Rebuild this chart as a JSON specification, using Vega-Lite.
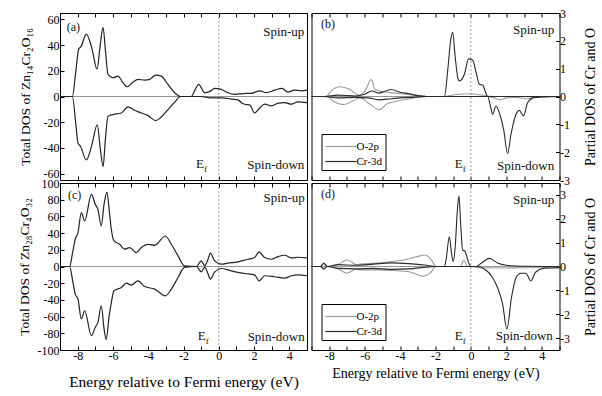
{
  "$schema": "https://vega.github.io/schema/vega-lite/v6.json",
  "padding": {"left": 16, "top": 6, "right": 0, "bottom": 0},
  "columns": 2,
  "spacing": {"row": 3, "column": 4.5},
  "align": "each",
  "bounds": "flush",
  "resolve": {"scale": {"color": "independent"}},
  "config": {
    "font": "Liberation Serif, DejaVu Serif, serif",
    "view": {"stroke": "#000", "strokeWidth": 1},
    "axis": {"domain": false, "grid": false, "tickColor": "#000", "labelColor": "#000", "titleColor": "#000", "labelFontSize": 12, "titleFontSize": 14, "titleFontWeight": "normal", "labelFont": "Liberation Serif, DejaVu Serif, serif", "titleFont": "Liberation Serif, DejaVu Serif, serif", "tickSize": -4, "labelOverlap": false, "minExtent": 0},
    "text": {"font": "Liberation Serif, DejaVu Serif, serif", "fontSize": 13, "color": "#111"},
    "legend": {"labelFont": "Liberation Serif, DejaVu Serif, serif", "labelFontSize": 11, "labelColor": "#000"}
  },
  "datasets": {
    "zero": [{"v": 0}],
    "a": [
      {"s":"up","x":-9,"y":0},{"s":"up","x":-8.3,"y":0},{"s":"up","x":-8.1,"y":20},{"s":"up","x":-7.94,"y":36.9},{"s":"up","x":-7.8,"y":39},{"s":"up","x":-7.51,"y":48.6},{"s":"up","x":-7.2,"y":38},{"s":"up","x":-6.9,"y":21.2},{"s":"up","x":-6.72,"y":40},{"s":"up","x":-6.56,"y":53.9},{"s":"up","x":-6.42,"y":35},{"s":"up","x":-6.28,"y":17.3},{"s":"up","x":-6.0,"y":14.6},{"s":"up","x":-5.71,"y":15.9},{"s":"up","x":-5.45,"y":11},{"s":"up","x":-5.19,"y":7.6},{"s":"up","x":-4.86,"y":11.2},{"s":"up","x":-4.58,"y":13.3},{"s":"up","x":-4.2,"y":12.8},{"s":"up","x":-3.92,"y":13.3},{"s":"up","x":-3.58,"y":16.7},{"s":"up","x":-3.26,"y":15.9},{"s":"up","x":-2.88,"y":9.4},{"s":"up","x":-2.5,"y":2.9},{"s":"up","x":-2.16,"y":0},{"s":"up","x":-1.56,"y":0},{"s":"up","x":-1.35,"y":5},{"s":"up","x":-1.14,"y":9.4},{"s":"up","x":-0.8,"y":2.9},{"s":"up","x":-0.5,"y":4},{"s":"up","x":-0.23,"y":6.3},{"s":"up","x":0.14,"y":5.5},{"s":"up","x":0.52,"y":2.9},{"s":"up","x":0.9,"y":1.7},{"s":"up","x":1.37,"y":2.3},{"s":"up","x":1.84,"y":2.5},{"s":"up","x":2.32,"y":4.4},{"s":"up","x":2.69,"y":3},{"s":"up","x":3.17,"y":5},{"s":"up","x":3.58,"y":6.3},{"s":"up","x":3.92,"y":3.4},{"s":"up","x":4.3,"y":5},{"s":"up","x":4.68,"y":4.4},{"s":"up","x":5,"y":5},
      {"s":"down","x":-9,"y":0},{"s":"down","x":-8.3,"y":0},{"s":"down","x":-8.1,"y":-22},{"s":"down","x":-7.98,"y":-36.3},{"s":"down","x":-7.83,"y":-38.9},{"s":"down","x":-7.51,"y":-49.4},{"s":"down","x":-7.2,"y":-38},{"s":"down","x":-6.89,"y":-22},{"s":"down","x":-6.72,"y":-40},{"s":"down","x":-6.56,"y":-54.6},{"s":"down","x":-6.42,"y":-32},{"s":"down","x":-6.28,"y":-15.4},{"s":"down","x":-6.0,"y":-14.1},{"s":"down","x":-5.52,"y":-12.8},{"s":"down","x":-5.14,"y":-8.1},{"s":"down","x":-4.77,"y":-10.7},{"s":"down","x":-4.39,"y":-12.8},{"s":"down","x":-4.01,"y":-14.9},{"s":"down","x":-3.58,"y":-18.8},{"s":"down","x":-3.26,"y":-16},{"s":"down","x":-2.88,"y":-10.2},{"s":"down","x":-2.5,"y":-4.4},{"s":"down","x":-2.16,"y":0},{"s":"down","x":-1.0,"y":0},{"s":"down","x":-0.5,"y":-1},{"s":"down","x":0.2,"y":-1},{"s":"down","x":0.71,"y":-2},{"s":"down","x":1.09,"y":-2.6},{"s":"down","x":1.3,"y":-5},{"s":"down","x":1.47,"y":-6},{"s":"down","x":1.75,"y":-6.5},{"s":"down","x":2.03,"y":-12.8},{"s":"down","x":2.32,"y":-8.9},{"s":"down","x":2.6,"y":-6},{"s":"down","x":2.98,"y":-7.3},{"s":"down","x":3.36,"y":-5.2},{"s":"down","x":3.73,"y":-4.7},{"s":"down","x":4.11,"y":-6},{"s":"down","x":4.49,"y":-4.2},{"s":"down","x":5,"y":-4.7}
    ],
    "c": [
      {"s":"up","x":-9,"y":0},{"s":"up","x":-8.45,"y":0},{"s":"up","x":-8.3,"y":15},{"s":"up","x":-8.14,"y":32.6},{"s":"up","x":-7.98,"y":40.6},{"s":"up","x":-7.79,"y":64.5},{"s":"up","x":-7.6,"y":54.5},{"s":"up","x":-7.22,"y":86.3},{"s":"up","x":-7.0,"y":74.4},{"s":"up","x":-6.85,"y":68.4},{"s":"up","x":-6.66,"y":48.5},{"s":"up","x":-6.5,"y":75},{"s":"up","x":-6.34,"y":89.1},{"s":"up","x":-6.2,"y":65},{"s":"up","x":-6.09,"y":44.5},{"s":"up","x":-5.94,"y":30.6},{"s":"up","x":-5.62,"y":26.6},{"s":"up","x":-5.34,"y":20.7},{"s":"up","x":-5.05,"y":22.7},{"s":"up","x":-4.67,"y":16.7},{"s":"up","x":-4.39,"y":22.7},{"s":"up","x":-4.01,"y":26.6},{"s":"up","x":-3.63,"y":25.4},{"s":"up","x":-3.03,"y":36.5},{"s":"up","x":-2.69,"y":26.6},{"s":"up","x":-2.31,"y":12.7},{"s":"up","x":-1.94,"y":0.8},{"s":"up","x":-1.27,"y":0},{"s":"up","x":-0.99,"y":6.7},{"s":"up","x":-0.8,"y":1},{"s":"up","x":-0.62,"y":8},{"s":"up","x":-0.48,"y":15.9},{"s":"up","x":-0.23,"y":6.7},{"s":"up","x":0.14,"y":2.8},{"s":"up","x":0.52,"y":4},{"s":"up","x":1.09,"y":5.6},{"s":"up","x":1.66,"y":8.7},{"s":"up","x":2.03,"y":10.7},{"s":"up","x":2.28,"y":17.5},{"s":"up","x":2.6,"y":10.7},{"s":"up","x":2.98,"y":8.7},{"s":"up","x":3.36,"y":11.9},{"s":"up","x":3.73,"y":13.5},{"s":"up","x":4.11,"y":10.3},{"s":"up","x":4.49,"y":11.1},{"s":"up","x":5,"y":10.3},
      {"s":"down","x":-9,"y":0},{"s":"down","x":-8.45,"y":0},{"s":"down","x":-8.3,"y":-15},{"s":"down","x":-8.14,"y":-33.1},{"s":"down","x":-7.98,"y":-39.1},{"s":"down","x":-7.79,"y":-62.9},{"s":"down","x":-7.6,"y":-53},{"s":"down","x":-7.22,"y":-82.9},{"s":"down","x":-7.0,"y":-72.8},{"s":"down","x":-6.85,"y":-66.9},{"s":"down","x":-6.66,"y":-47},{"s":"down","x":-6.5,"y":-75},{"s":"down","x":-6.38,"y":-87.6},{"s":"down","x":-6.22,"y":-60},{"s":"down","x":-6.09,"y":-43},{"s":"down","x":-5.94,"y":-29.1},{"s":"down","x":-5.52,"y":-25.1},{"s":"down","x":-5.24,"y":-19.9},{"s":"down","x":-4.96,"y":-22.3},{"s":"down","x":-4.58,"y":-17.2},{"s":"down","x":-4.2,"y":-24},{"s":"down","x":-3.63,"y":-27.1},{"s":"down","x":-3.03,"y":-35.1},{"s":"down","x":-2.69,"y":-27.1},{"s":"down","x":-2.31,"y":-13.1},{"s":"down","x":-1.94,"y":-1},{"s":"down","x":-1.27,"y":0},{"s":"down","x":-0.99,"y":-6.4},{"s":"down","x":-0.8,"y":-1},{"s":"down","x":-0.62,"y":-8},{"s":"down","x":-0.48,"y":-15.2},{"s":"down","x":-0.23,"y":-6.4},{"s":"down","x":0.14,"y":-2.4},{"s":"down","x":0.71,"y":-5.2},{"s":"down","x":1.47,"y":-8.4},{"s":"down","x":2.03,"y":-10},{"s":"down","x":2.28,"y":-17.2},{"s":"down","x":2.6,"y":-11.1},{"s":"down","x":3.17,"y":-12.3},{"s":"down","x":3.73,"y":-14},{"s":"down","x":4.11,"y":-11.1},{"s":"down","x":4.49,"y":-10},{"s":"down","x":5,"y":-11.1}
    ],
    "b": [
      {"s":"O-2p","p":"up","x":-9,"y":0},{"s":"O-2p","p":"up","x":-8.13,"y":0},{"s":"O-2p","p":"up","x":-7.94,"y":0.17},{"s":"O-2p","p":"up","x":-7.38,"y":0.35},{"s":"O-2p","p":"up","x":-6.82,"y":0.25},{"s":"O-2p","p":"up","x":-6.35,"y":0.05},{"s":"O-2p","p":"up","x":-5.97,"y":0.2},{"s":"O-2p","p":"up","x":-5.63,"y":0.61},{"s":"O-2p","p":"up","x":-5.41,"y":0.25},{"s":"O-2p","p":"up","x":-4.94,"y":0.17},{"s":"O-2p","p":"up","x":-4.38,"y":0.13},{"s":"O-2p","p":"up","x":-3.81,"y":0.09},{"s":"O-2p","p":"up","x":-3.06,"y":0.04},{"s":"O-2p","p":"up","x":-2.5,"y":0},{"s":"O-2p","p":"up","x":-1.5,"y":0},{"s":"O-2p","p":"up","x":-1.2,"y":0.03},{"s":"O-2p","p":"up","x":-0.8,"y":0.07},{"s":"O-2p","p":"up","x":0,"y":0.1},{"s":"O-2p","p":"up","x":0.5,"y":0.06},{"s":"O-2p","p":"up","x":0.9,"y":0.02},{"s":"O-2p","p":"up","x":1.5,"y":0},{"s":"O-2p","p":"up","x":5,"y":0},
      {"s":"O-2p","p":"down","x":-9,"y":0},{"s":"O-2p","p":"down","x":-8.13,"y":0},{"s":"O-2p","p":"down","x":-7.76,"y":-0.17},{"s":"O-2p","p":"down","x":-7.19,"y":-0.29},{"s":"O-2p","p":"down","x":-6.63,"y":-0.15},{"s":"O-2p","p":"down","x":-6.25,"y":-0.04},{"s":"O-2p","p":"down","x":-5.78,"y":-0.24},{"s":"O-2p","p":"down","x":-5.16,"y":-0.47},{"s":"O-2p","p":"down","x":-4.75,"y":-0.27},{"s":"O-2p","p":"down","x":-4.19,"y":-0.17},{"s":"O-2p","p":"down","x":-3.44,"y":-0.08},{"s":"O-2p","p":"down","x":-2.5,"y":0},{"s":"O-2p","p":"down","x":0.9,"y":0},{"s":"O-2p","p":"down","x":1.3,"y":-0.05},{"s":"O-2p","p":"down","x":1.65,"y":-0.12},{"s":"O-2p","p":"down","x":2.0,"y":-0.05},{"s":"O-2p","p":"down","x":2.5,"y":-0.03},{"s":"O-2p","p":"down","x":3.2,"y":-0.08},{"s":"O-2p","p":"down","x":3.6,"y":-0.02},{"s":"O-2p","p":"down","x":5,"y":0},
      {"s":"Cr-3d","p":"up","x":-9,"y":0},{"s":"Cr-3d","p":"up","x":-8.3,"y":0},{"s":"Cr-3d","p":"up","x":-7.5,"y":0.05},{"s":"Cr-3d","p":"up","x":-6.5,"y":0.02},{"s":"Cr-3d","p":"up","x":-6.0,"y":0.08},{"s":"Cr-3d","p":"up","x":-5.6,"y":0.2},{"s":"Cr-3d","p":"up","x":-5.2,"y":0.12},{"s":"Cr-3d","p":"up","x":-4.5,"y":0.25},{"s":"Cr-3d","p":"up","x":-4.0,"y":0.15},{"s":"Cr-3d","p":"up","x":-3.5,"y":0.1},{"s":"Cr-3d","p":"up","x":-3,"y":0.03},{"s":"Cr-3d","p":"up","x":-2.5,"y":0},{"s":"Cr-3d","p":"up","x":-1.5,"y":0},{"s":"Cr-3d","p":"up","x":-1.3,"y":1.0},{"s":"Cr-3d","p":"up","x":-1.15,"y":2.0},{"s":"Cr-3d","p":"up","x":-1.03,"y":2.31},{"s":"Cr-3d","p":"up","x":-0.9,"y":1.5},{"s":"Cr-3d","p":"up","x":-0.75,"y":0.7},{"s":"Cr-3d","p":"up","x":-0.65,"y":0.56},{"s":"Cr-3d","p":"up","x":-0.37,"y":0.8},{"s":"Cr-3d","p":"up","x":-0.13,"y":1.35},{"s":"Cr-3d","p":"up","x":0.1,"y":1.3},{"s":"Cr-3d","p":"up","x":0.29,"y":0.87},{"s":"Cr-3d","p":"up","x":0.48,"y":0.44},{"s":"Cr-3d","p":"up","x":0.67,"y":0.41},{"s":"Cr-3d","p":"up","x":0.8,"y":0.2},{"s":"Cr-3d","p":"up","x":0.95,"y":0},{"s":"Cr-3d","p":"up","x":5,"y":0},
      {"s":"Cr-3d","p":"down","x":-9,"y":0},{"s":"Cr-3d","p":"down","x":-8.3,"y":0},{"s":"Cr-3d","p":"down","x":-7.5,"y":-0.05},{"s":"Cr-3d","p":"down","x":-6.5,"y":-0.03},{"s":"Cr-3d","p":"down","x":-5.8,"y":-0.05},{"s":"Cr-3d","p":"down","x":-5.2,"y":-0.12},{"s":"Cr-3d","p":"down","x":-4.5,"y":-0.08},{"s":"Cr-3d","p":"down","x":-4,"y":-0.05},{"s":"Cr-3d","p":"down","x":-3,"y":-0.02},{"s":"Cr-3d","p":"down","x":-2.5,"y":0},{"s":"Cr-3d","p":"down","x":0.95,"y":0},{"s":"Cr-3d","p":"down","x":1.1,"y":-0.35},{"s":"Cr-3d","p":"down","x":1.23,"y":-0.64},{"s":"Cr-3d","p":"down","x":1.41,"y":-0.34},{"s":"Cr-3d","p":"down","x":1.66,"y":-0.7},{"s":"Cr-3d","p":"down","x":1.85,"y":-1.2},{"s":"Cr-3d","p":"down","x":2.07,"y":-2.05},{"s":"Cr-3d","p":"down","x":2.25,"y":-1.4},{"s":"Cr-3d","p":"down","x":2.45,"y":-0.82},{"s":"Cr-3d","p":"down","x":2.73,"y":-0.5},{"s":"Cr-3d","p":"down","x":2.97,"y":-0.7},{"s":"Cr-3d","p":"down","x":3.2,"y":-0.22},{"s":"Cr-3d","p":"down","x":3.57,"y":-0.04},{"s":"Cr-3d","p":"down","x":4,"y":-0.02},{"s":"Cr-3d","p":"down","x":5,"y":0}
    ],
    "d": [
      {"s":"O-2p","p":"up","x":-9,"y":0},{"s":"O-2p","p":"up","x":-8.5,"y":0},{"s":"O-2p","p":"up","x":-8.32,"y":0.14},{"s":"O-2p","p":"up","x":-8.13,"y":0},{"s":"O-2p","p":"up","x":-7.6,"y":0.05},{"s":"O-2p","p":"up","x":-7.25,"y":0.2},{"s":"O-2p","p":"up","x":-7.0,"y":0.27},{"s":"O-2p","p":"up","x":-6.75,"y":0.2},{"s":"O-2p","p":"up","x":-6.5,"y":0.08},{"s":"O-2p","p":"up","x":-6.25,"y":0.1},{"s":"O-2p","p":"up","x":-5.3,"y":0.14},{"s":"O-2p","p":"up","x":-4.56,"y":0.2},{"s":"O-2p","p":"up","x":-3.81,"y":0.27},{"s":"O-2p","p":"up","x":-3.06,"y":0.41},{"s":"O-2p","p":"up","x":-2.59,"y":0.48},{"s":"O-2p","p":"up","x":-2.22,"y":0.27},{"s":"O-2p","p":"up","x":-1.97,"y":0},{"s":"O-2p","p":"up","x":-0.6,"y":0},{"s":"O-2p","p":"up","x":-0.39,"y":0.27},{"s":"O-2p","p":"up","x":-0.2,"y":0},{"s":"O-2p","p":"up","x":5,"y":0},
      {"s":"O-2p","p":"down","x":-9,"y":0},{"s":"O-2p","p":"down","x":-8.5,"y":0},{"s":"O-2p","p":"down","x":-8.32,"y":-0.11},{"s":"O-2p","p":"down","x":-8.13,"y":0},{"s":"O-2p","p":"down","x":-7.6,"y":-0.05},{"s":"O-2p","p":"down","x":-7.25,"y":-0.2},{"s":"O-2p","p":"down","x":-7.0,"y":-0.28},{"s":"O-2p","p":"down","x":-6.75,"y":-0.2},{"s":"O-2p","p":"down","x":-6.5,"y":-0.1},{"s":"O-2p","p":"down","x":-6.25,"y":-0.14},{"s":"O-2p","p":"down","x":-5.3,"y":-0.14},{"s":"O-2p","p":"down","x":-4.38,"y":-0.17},{"s":"O-2p","p":"down","x":-3.44,"y":-0.23},{"s":"O-2p","p":"down","x":-2.69,"y":-0.41},{"s":"O-2p","p":"down","x":-2.31,"y":-0.28},{"s":"O-2p","p":"down","x":-1.97,"y":0},{"s":"O-2p","p":"down","x":0,"y":0},{"s":"O-2p","p":"down","x":0.5,"y":-0.05},{"s":"O-2p","p":"down","x":2,"y":-0.06},{"s":"O-2p","p":"down","x":3.5,"y":-0.05},{"s":"O-2p","p":"down","x":5,"y":-0.05},
      {"s":"Cr-3d","p":"up","x":-9,"y":0},{"s":"Cr-3d","p":"up","x":-8.5,"y":0},{"s":"Cr-3d","p":"up","x":-8.3,"y":0.13},{"s":"Cr-3d","p":"up","x":-8.1,"y":0},{"s":"Cr-3d","p":"up","x":-7.5,"y":0.08},{"s":"Cr-3d","p":"up","x":-6.5,"y":0.05},{"s":"Cr-3d","p":"up","x":-5.5,"y":0.1},{"s":"Cr-3d","p":"up","x":-4.5,"y":0.15},{"s":"Cr-3d","p":"up","x":-3.5,"y":0.12},{"s":"Cr-3d","p":"up","x":-2.5,"y":0.05},{"s":"Cr-3d","p":"up","x":-2,"y":0},{"s":"Cr-3d","p":"up","x":-1.5,"y":0},{"s":"Cr-3d","p":"up","x":-1.4,"y":0.3},{"s":"Cr-3d","p":"up","x":-1.22,"y":1.24},{"s":"Cr-3d","p":"up","x":-1.1,"y":0.6},{"s":"Cr-3d","p":"up","x":-1.0,"y":0.21},{"s":"Cr-3d","p":"up","x":-0.88,"y":0.9},{"s":"Cr-3d","p":"up","x":-0.78,"y":2.2},{"s":"Cr-3d","p":"up","x":-0.68,"y":2.96},{"s":"Cr-3d","p":"up","x":-0.58,"y":1.8},{"s":"Cr-3d","p":"up","x":-0.47,"y":0.69},{"s":"Cr-3d","p":"up","x":-0.34,"y":0.64},{"s":"Cr-3d","p":"up","x":-0.15,"y":0.2},{"s":"Cr-3d","p":"up","x":0,"y":0},{"s":"Cr-3d","p":"up","x":0.3,"y":0},{"s":"Cr-3d","p":"up","x":0.6,"y":0.15},{"s":"Cr-3d","p":"up","x":1.04,"y":0.34},{"s":"Cr-3d","p":"up","x":1.5,"y":0.15},{"s":"Cr-3d","p":"up","x":2,"y":0.05},{"s":"Cr-3d","p":"up","x":2.5,"y":0.02},{"s":"Cr-3d","p":"up","x":5,"y":0},
      {"s":"Cr-3d","p":"down","x":-9,"y":0},{"s":"Cr-3d","p":"down","x":-8.5,"y":0},{"s":"Cr-3d","p":"down","x":-8.3,"y":-0.1},{"s":"Cr-3d","p":"down","x":-8.1,"y":0},{"s":"Cr-3d","p":"down","x":-7.5,"y":-0.08},{"s":"Cr-3d","p":"down","x":-6.5,"y":-0.1},{"s":"Cr-3d","p":"down","x":-5.5,"y":-0.08},{"s":"Cr-3d","p":"down","x":-4.5,"y":-0.12},{"s":"Cr-3d","p":"down","x":-3.5,"y":-0.1},{"s":"Cr-3d","p":"down","x":-2.5,"y":-0.03},{"s":"Cr-3d","p":"down","x":-2,"y":0},{"s":"Cr-3d","p":"down","x":0.4,"y":0},{"s":"Cr-3d","p":"down","x":0.7,"y":-0.08},{"s":"Cr-3d","p":"down","x":0.94,"y":-0.21},{"s":"Cr-3d","p":"down","x":1.25,"y":-0.5},{"s":"Cr-3d","p":"down","x":1.51,"y":-0.9},{"s":"Cr-3d","p":"down","x":1.79,"y":-1.58},{"s":"Cr-3d","p":"down","x":2.03,"y":-2.62},{"s":"Cr-3d","p":"down","x":2.29,"y":-1.3},{"s":"Cr-3d","p":"down","x":2.54,"y":-0.48},{"s":"Cr-3d","p":"down","x":2.82,"y":-0.28},{"s":"Cr-3d","p":"down","x":3.1,"y":-0.28},{"s":"Cr-3d","p":"down","x":3.38,"y":-0.6},{"s":"Cr-3d","p":"down","x":3.66,"y":-0.23},{"s":"Cr-3d","p":"down","x":4.13,"y":-0.07},{"s":"Cr-3d","p":"down","x":5,"y":-0.05}
    ],
    "ta": [{"k":"lab","t":"(a)","x":-8.62,"y":54},{"k":"spin","t":"Spin-up","x":4.85,"y":50},{"k":"spin","t":"Spin-down","x":4.85,"y":-53.5},{"k":"ef","t":"E","x":-0.84,"y":-52.5}],
    "tc": [{"k":"lab","t":"(c)","x":-8.55,"y":86},{"k":"spin","t":"Spin-up","x":4.87,"y":82},{"k":"spin","t":"Spin-down","x":4.87,"y":-85},{"k":"ef","t":"E","x":-0.74,"y":-83}],
    "tb": [{"k":"lab","t":"(b)","x":-8.46,"y":2.61},{"k":"spin","t":"Spin-up","x":4.7,"y":2.4},{"k":"spin","t":"Spin-down","x":4.7,"y":-2.5},{"k":"ef","t":"E","x":-0.46,"y":-2.44}],
    "td": [{"k":"lab","t":"(d)","x":-8.46,"y":3.03},{"k":"spin","t":"Spin-up","x":4.7,"y":2.8},{"k":"spin","t":"Spin-down","x":4.62,"y":-2.93},{"k":"ef","t":"E","x":-0.46,"y":-2.9}]
  },
  "concat": [
    {
      "width": 247, "height": 167,
      "resolve": {"axis": {"x": "independent", "y": "independent"}},
      "layer": [
        {"data": {"name": "zero"}, "mark": {"type": "rule", "color": "#777", "strokeWidth": 0.8}, "encoding": {"y": {"field": "v", "type": "quantitative", "scale": {"domain": [-65, 65], "nice": false}, "axis": {"values": [-60,-40,-20,0,20,40,60], "labelExpr": "'' + datum.value", "labelOverlap": false, "title": "Total DOS of Zn₁₄Cr₂O₁₆", "titleFontSize": 13.5, "labelPadding": 5, "titlePadding": 11}}}},
        {"data": {"name": "zero"}, "mark": {"type": "rule", "color": "#999", "strokeWidth": 1, "strokeDash": [2, 2]}, "encoding": {"x": {"field": "v", "type": "quantitative", "scale": {"domain": [-9, 5], "nice": false, "zero": false}, "axis": {"orient": "top", "values": [-9,-8,-7,-6,-5,-4,-3,-2,-1,0,1,2,3,4,5], "labels": false, "title": null}}}},
        {"data": {"name": "a"}, "mark": {"type": "line", "color": "#222", "strokeWidth": 1.2, "interpolate": "monotone"}, "encoding": {"x": {"field": "x", "type": "quantitative", "axis": {"orient": "bottom", "values": [-9,-8,-7,-6,-5,-4,-3,-2,-1,0,1,2,3,4,5], "labels": false, "title": null}}, "y": {"field": "y", "type": "quantitative", "axis": null}, "detail": {"field": "s"}}},
        {"data": {"name": "ta"}, "transform": [{"filter": "datum.k == 'lab'"}], "mark": {"type": "text", "align": "left", "fontSize": 12}, "encoding": {"x": {"field": "x", "type": "quantitative", "axis": null}, "y": {"field": "y", "type": "quantitative", "axis": null}, "text": {"field": "t"}}},
        {"data": {"name": "ta"}, "transform": [{"filter": "datum.k != 'lab'"}], "mark": {"type": "text", "align": "right"}, "encoding": {"x": {"field": "x", "type": "quantitative", "axis": null}, "y": {"field": "y", "type": "quantitative", "axis": null}, "text": {"field": "t"}}},
        {"data": {"name": "ta"}, "transform": [{"filter": "datum.k == 'ef'"}], "mark": {"type": "text", "align": "left", "fontSize": 9, "dy": 5, "text": "f"}, "encoding": {"x": {"field": "x", "type": "quantitative", "axis": null}, "y": {"field": "y", "type": "quantitative", "axis": null}}}
      ]
    },
    {
      "width": 248, "height": 167,
      "resolve": {"axis": {"x": "independent", "y": "independent"}},
      "layer": [
        {"data": {"name": "zero"}, "mark": {"type": "rule", "color": "#777", "strokeWidth": 0.8}, "encoding": {"y": {"field": "v", "type": "quantitative", "scale": {"domain": [-3, 3], "nice": false}, "axis": {"orient": "right", "values": [-3,-2,-1,0,1,2,3], "labelExpr": "'' + datum.value", "labelOverlap": false, "title": "Partial DOS of Cr and O", "titleAngle": -90, "titleBaseline": "top", "labelPadding": 4, "titlePadding": 14}}}},
        {"data": {"name": "zero"}, "mark": {"type": "rule", "color": "#999", "strokeWidth": 1, "strokeDash": [2, 2]}, "encoding": {"x": {"field": "v", "type": "quantitative", "scale": {"domain": [-9, 5], "nice": false, "zero": false}, "axis": {"orient": "top", "values": [-9,-8,-7,-6,-5,-4,-3,-2,-1,0,1,2,3,4,5], "labels": false, "title": null}}}},
        {"data": {"name": "b"}, "mark": {"type": "line", "strokeWidth": 1.1, "interpolate": "monotone"}, "encoding": {"x": {"field": "x", "type": "quantitative", "axis": {"orient": "bottom", "values": [-9,-8,-7,-6,-5,-4,-3,-2,-1,0,1,2,3,4,5], "labels": false, "title": null}}, "y": {"field": "y", "type": "quantitative", "axis": null}, "detail": {"field": "p"}, "color": {"field": "s", "type": "nominal", "scale": {"domain": ["O-2p", "Cr-3d"], "range": ["#9a9a9a", "#2a2a2a"]}, "legend": {"title": null, "orient": "bottom-left", "offset": 10, "symbolType": "M-1,0H2.6", "symbolSize": 300, "symbolStrokeWidth": 1.2, "strokeColor": "#000", "padding": 3, "rowPadding": -6, "labelOffset": 13}}}},
        {"data": {"name": "tb"}, "transform": [{"filter": "datum.k == 'lab'"}], "mark": {"type": "text", "align": "left", "fontSize": 12}, "encoding": {"x": {"field": "x", "type": "quantitative", "axis": null}, "y": {"field": "y", "type": "quantitative", "axis": null}, "text": {"field": "t"}}},
        {"data": {"name": "tb"}, "transform": [{"filter": "datum.k != 'lab'"}], "mark": {"type": "text", "align": "right"}, "encoding": {"x": {"field": "x", "type": "quantitative", "axis": null}, "y": {"field": "y", "type": "quantitative", "axis": null}, "text": {"field": "t"}}},
        {"data": {"name": "tb"}, "transform": [{"filter": "datum.k == 'ef'"}], "mark": {"type": "text", "align": "left", "fontSize": 9, "dy": 5, "text": "f"}, "encoding": {"x": {"field": "x", "type": "quantitative", "axis": null}, "y": {"field": "y", "type": "quantitative", "axis": null}}}
      ]
    },
    {
      "width": 247, "height": 167,
      "resolve": {"axis": {"x": "independent", "y": "independent"}},
      "layer": [
        {"data": {"name": "zero"}, "mark": {"type": "rule", "color": "#777", "strokeWidth": 0.8}, "encoding": {"y": {"field": "v", "type": "quantitative", "scale": {"domain": [-100, 100], "nice": false}, "axis": {"values": [-100,-80,-60,-40,-20,0,20,40,60,80,100], "labelExpr": "'' + datum.value", "labelOverlap": false, "title": "Total DOS of Zn₂₈Cr₄O₃₂", "titleFontSize": 13.5, "labelPadding": 5, "titlePadding": 6}}}},
        {"data": {"name": "zero"}, "mark": {"type": "rule", "color": "#999", "strokeWidth": 1, "strokeDash": [2, 2]}, "encoding": {"x": {"field": "v", "type": "quantitative", "scale": {"domain": [-9, 5], "nice": false, "zero": false}, "axis": {"orient": "top", "values": [-9,-8,-7,-6,-5,-4,-3,-2,-1,0,1,2,3,4,5], "labels": false, "title": null}}}},
        {"data": {"name": "c"}, "mark": {"type": "line", "color": "#222", "strokeWidth": 1.2, "interpolate": "monotone"}, "encoding": {"x": {"field": "x", "type": "quantitative", "axis": {"orient": "bottom", "values": [-9,-8,-7,-6,-5,-4,-3,-2,-1,0,1,2,3,4,5], "labelExpr": "datum.value % 2 == 0 && datum.value < 5 ? '' + datum.value : ''", "title": "Energy relative to Fermi energy (eV)", "titleFontSize": 15.5, "labelPadding": 4, "titlePadding": 13}}, "y": {"field": "y", "type": "quantitative", "axis": null}, "detail": {"field": "s"}}},
        {"data": {"name": "tc"}, "transform": [{"filter": "datum.k == 'lab'"}], "mark": {"type": "text", "align": "left", "fontSize": 12}, "encoding": {"x": {"field": "x", "type": "quantitative", "axis": null}, "y": {"field": "y", "type": "quantitative", "axis": null}, "text": {"field": "t"}}},
        {"data": {"name": "tc"}, "transform": [{"filter": "datum.k != 'lab'"}], "mark": {"type": "text", "align": "right"}, "encoding": {"x": {"field": "x", "type": "quantitative", "axis": null}, "y": {"field": "y", "type": "quantitative", "axis": null}, "text": {"field": "t"}}},
        {"data": {"name": "tc"}, "transform": [{"filter": "datum.k == 'ef'"}], "mark": {"type": "text", "align": "left", "fontSize": 9, "dy": 5, "text": "f"}, "encoding": {"x": {"field": "x", "type": "quantitative", "axis": null}, "y": {"field": "y", "type": "quantitative", "axis": null}}}
      ]
    },
    {
      "width": 248, "height": 167,
      "resolve": {"axis": {"x": "independent", "y": "independent"}},
      "layer": [
        {"data": {"name": "zero"}, "mark": {"type": "rule", "color": "#777", "strokeWidth": 0.8}, "encoding": {"y": {"field": "v", "type": "quantitative", "scale": {"domain": [-3.5, 3.5], "nice": false}, "axis": {"orient": "right", "values": [-3,-2,-1,0,1,2,3], "labelExpr": "'' + datum.value", "labelOverlap": false, "title": "Partial DOS of Cr and O", "titleAngle": -90, "titleBaseline": "top", "labelPadding": 4, "titlePadding": 14}}}},
        {"data": {"name": "zero"}, "mark": {"type": "rule", "color": "#999", "strokeWidth": 1, "strokeDash": [2, 2]}, "encoding": {"x": {"field": "v", "type": "quantitative", "scale": {"domain": [-9, 5], "nice": false, "zero": false}, "axis": {"orient": "top", "values": [-9,-8,-7,-6,-5,-4,-3,-2,-1,0,1,2,3,4,5], "labels": false, "title": null}}}},
        {"data": {"name": "d"}, "mark": {"type": "line", "strokeWidth": 1.1, "interpolate": "monotone"}, "encoding": {"x": {"field": "x", "type": "quantitative", "axis": {"orient": "bottom", "values": [-9,-8,-7,-6,-5,-4,-3,-2,-1,0,1,2,3,4,5], "labelExpr": "datum.value % 2 == 0 && datum.value < 5 ? '' + datum.value : ''", "title": "Energy relative to Fermi energy (eV)", "titleFontSize": 14, "labelPadding": 4, "titlePadding": 5}}, "y": {"field": "y", "type": "quantitative", "axis": null}, "detail": {"field": "p"}, "color": {"field": "s", "type": "nominal", "scale": {"domain": ["O-2p", "Cr-3d"], "range": ["#9a9a9a", "#2a2a2a"]}, "legend": {"title": null, "orient": "bottom-left", "offset": 10, "symbolType": "M-1,0H2.6", "symbolSize": 300, "symbolStrokeWidth": 1.2, "strokeColor": "#000", "padding": 3, "rowPadding": -6, "labelOffset": 13}}}},
        {"data": {"name": "td"}, "transform": [{"filter": "datum.k == 'lab'"}], "mark": {"type": "text", "align": "left", "fontSize": 12}, "encoding": {"x": {"field": "x", "type": "quantitative", "axis": null}, "y": {"field": "y", "type": "quantitative", "axis": null}, "text": {"field": "t"}}},
        {"data": {"name": "td"}, "transform": [{"filter": "datum.k != 'lab'"}], "mark": {"type": "text", "align": "right"}, "encoding": {"x": {"field": "x", "type": "quantitative", "axis": null}, "y": {"field": "y", "type": "quantitative", "axis": null}, "text": {"field": "t"}}},
        {"data": {"name": "td"}, "transform": [{"filter": "datum.k == 'ef'"}], "mark": {"type": "text", "align": "left", "fontSize": 9, "dy": 5, "text": "f"}, "encoding": {"x": {"field": "x", "type": "quantitative", "axis": null}, "y": {"field": "y", "type": "quantitative", "axis": null}}}
      ]
    }
  ]
}
